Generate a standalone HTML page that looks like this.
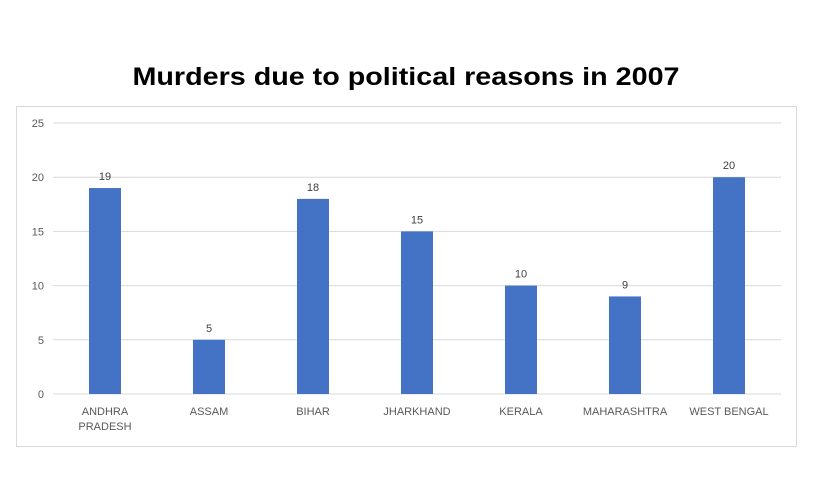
<!DOCTYPE html>
<html><head><meta charset="utf-8"><style>
body{margin:0;background:#fff;}
svg{display:block;font-family:"Liberation Sans",sans-serif;}
</style></head><body>
<svg id="chart" width="825" height="500">
<text x="406" y="85" text-anchor="middle" font-size="25" font-weight="bold" fill="#000" textLength="547" lengthAdjust="spacingAndGlyphs">Murders due to political reasons in 2007</text>
<rect x="16.5" y="106.5" width="780" height="340" fill="none" stroke="#d9d9d9"/>
<g id="grid"></g><g id="bars"></g>
</svg>
<script>
const categories=[["ANDHRA","PRADESH"],["ASSAM"],["BIHAR"],["JHARKHAND"],["KERALA"],["MAHARASHTRA"],["WEST BENGAL"]];
const values=[19,5,18,15,10,9,20];
const yTicks=[0,5,10,15,20,25];
const NS="http://www.w3.org/2000/svg";
const x0=53,x1=781,yTop=123,yBot=394,yMax=25;
const band=(x1-x0)/categories.length;
const y=v=>yBot-(v/yMax)*(yBot-yTop);
const xc=i=>x0+band*(i+0.5);
const grid=document.getElementById('grid'),bars=document.getElementById('bars');
function mk(t,a,p){const e=document.createElementNS(NS,t);for(const k in a)e.setAttribute(k,a[k]);p.appendChild(e);return e;}
yTicks.forEach(t=>{
 const l=mk('line',{x1:x0,x2:x1,y1:y(t),y2:y(t),stroke:'#d9d9d9','stroke-width':1},grid);
 
 
 const tx=mk('text',{x:44,y:y(t)+4,'text-anchor':'end','font-size':11,fill:'#595959'},grid);
 tx.textContent=t;
 
 
});
values.forEach((v,i)=>{
 const w=32;
 const r=mk('rect',{x:xc(i)-w/2,y:y(v),width:w,height:yBot-y(v),fill:'#4472c4'},bars);
 
 
 const lb=mk('text',{x:xc(i),y:y(v)-8,'text-anchor':'middle','font-size':11,fill:'#404040'},bars);
 lb.textContent=v;
 
 
 categories[i].forEach((s,j)=>{
  const c=mk('text',{x:xc(i),y:yBot+21+j*15,'text-anchor':'middle','font-size':11,fill:'#595959'},bars);
  c.textContent=s;
  
  
 });
});
</script>
</body></html>
